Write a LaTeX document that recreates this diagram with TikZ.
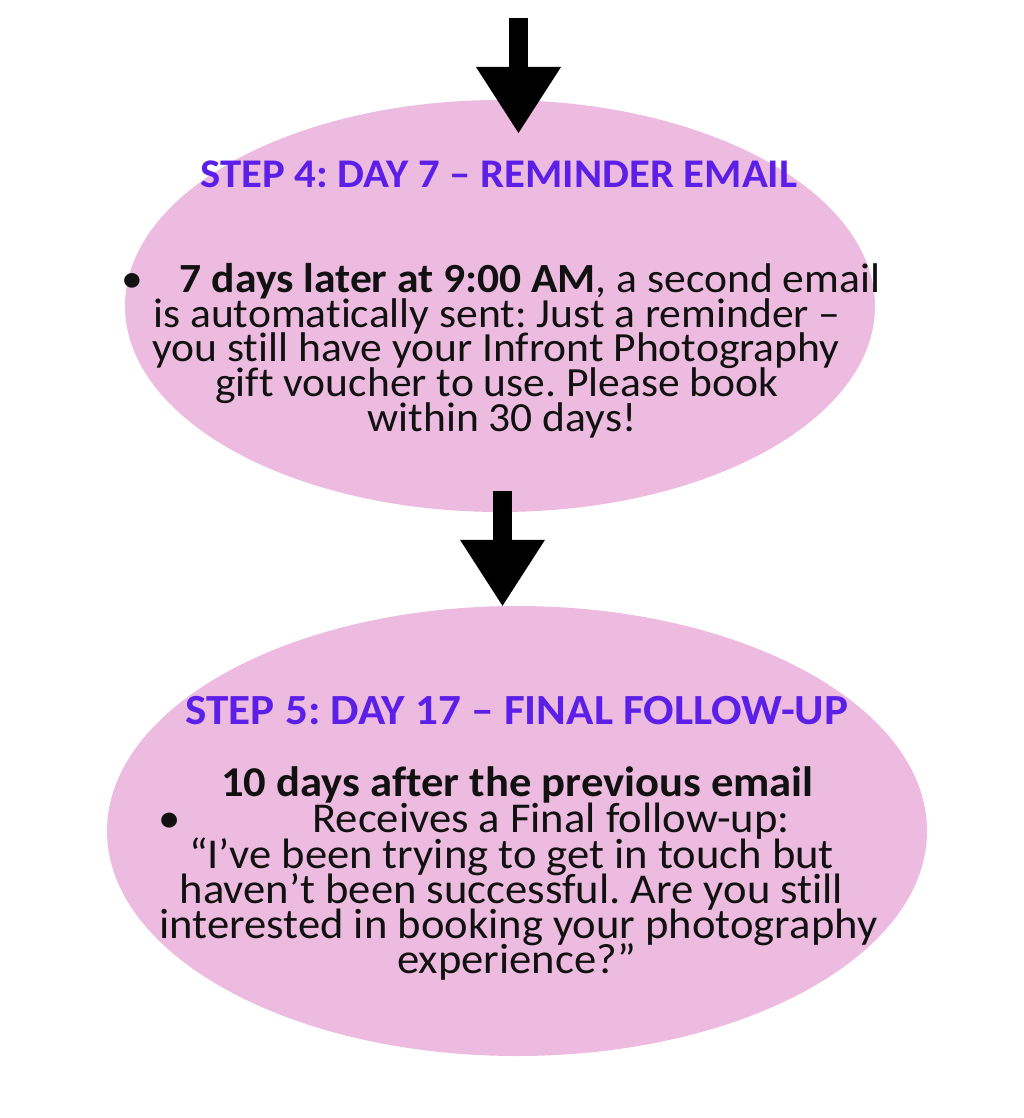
\documentclass[tikz,border=0pt]{standalone}
\usepackage{fontspec}
\setmainfont[FakeStretch=1.05, Ligatures=NoCommon]{Carlito}
\usetikzlibrary{shapes.geometric,arrows.meta}
\definecolor{blobpink}{HTML}{EDBBDF}
\definecolor{ttlpurple}{HTML}{5B1FE8}
\definecolor{inkc}{HTML}{111111}
\tikzset{
  blob/.style={ellipse, fill=blobpink, draw=none, inner sep=0pt},
  lbl/.style={anchor=base, inner sep=0pt, text height=22pt, text depth=6pt},
  ttlA/.style={lbl, text=ttlpurple, font=\fontsize{40.7}{40}\selectfont\bfseries},
  ttlB/.style={lbl, text=ttlpurple, font=\fontsize{43}{40}\selectfont\bfseries},
  txtA/.style={lbl, text=inkc, font=\fontsize{41.5}{40}\selectfont},
  txtB/.style={lbl, text=inkc, font=\fontsize{42.5}{40}\selectfont},
  bigarrow/.style={line width=19pt, line cap=butt, black,
    -{Triangle[length=66pt, width=85pt, line width=0pt]}}
}
\begin{document}
\frenchspacing
\begin{tikzpicture}[x=1pt,y=-1pt]
\useasboundingbox (0,0) rectangle (1024,1118);
\node[blob, minimum width=750pt, minimum height=412pt] (e1) at (500,306) {};
\node[blob, minimum width=820pt, minimum height=450pt] (e2) at (517,831) {};
\coordinate (a1s) at (518.5,18);
\coordinate (a1t) at (518.5,133);
\coordinate (a2s) at (502.5,491);
\draw[bigarrow] (a1s) -- (a1t);
\draw[bigarrow] (a2s) -- (a2s |- e2.north);
% step 4
\node[ttlA] (t1) at (499,188) {STEP 4: DAY 7 – REMINDER EMAIL};
\node[txtA] (d1) at (132,292) {•};
\node[txtA] (l1) at (530,292) {\textbf{7 days later at 9:00 AM}, a second email};
\node[txtA] (l2) at (497,327) {is automatically sent: Just a reminder –};
\node[txtA] (l3) at (496,361) {you still have your Infront Photography};
\node[txtA] (l4) at (497,396) {gift voucher to use. Please book};
\node[txtA] (l5) at (502,431) {within 30 days!};
% step 5
\node[ttlB] (t2) at (517,724) {STEP 5: DAY 17 – FINAL FOLLOW-UP};
\node[txtB] (m1) at (517.5,796) {\textbf{10 days after the previous email}};
\node[txtB] (d2) at (170,832) {•};
\node[txtB] (m2) at (551,832) {Receives a Final follow-up:};
\node[txtB] (m3) at (511.5,868) {“I’ve been trying to get in touch but};
\node[txtB] (m4) at (511.5,903) {haven’t been successful. Are you still};
\node[txtB] (m5) at (518.5,938) {interested in booking your photography};
\node[txtB] (m6) at (517,973) {experience?”};
\end{tikzpicture}
\end{document}
